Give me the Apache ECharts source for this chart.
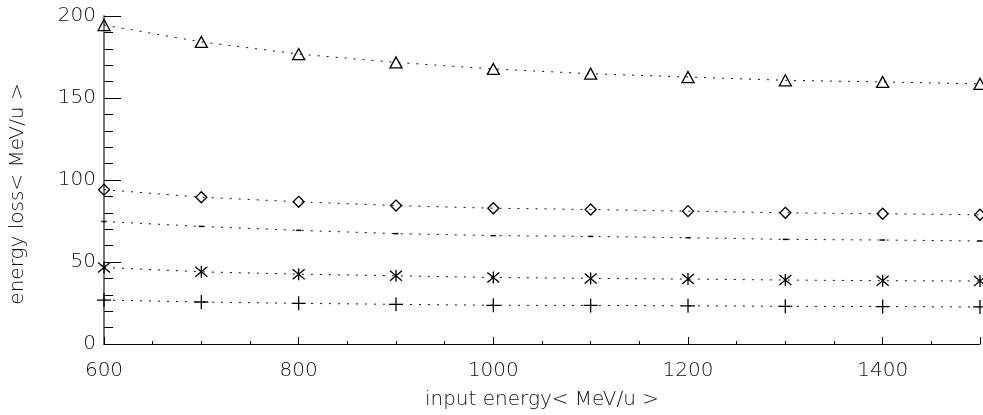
<!DOCTYPE html>
<html>
<head>
<meta charset="utf-8">
<script src="https://cdn.jsdelivr.net/npm/echarts@6/dist/echarts.min.js"></script>
<style>
html,body{margin:0;padding:0;background:#fff;}
#c{width:983px;height:415px;}
</style>
</head>
<body>
<div id="c"></div>
<script>
const energies = [600, 700, 800, 900, 1000, 1100, 1200, 1300, 1400, 1500];
const seriesTriangle = [194.5, 184.2, 176.8, 171.7, 167.7, 164.8, 162.8, 160.8, 159.8, 158.6];
const seriesDiamond  = [94.1, 89.5, 86.7, 84.4, 82.8, 82.0, 81.0, 80.0, 79.4, 78.8];
const seriesDash     = [74.7, 71.7, 69.3, 67.3, 66.1, 65.6, 64.8, 63.8, 63.4, 62.8];
const seriesStar     = [46.7, 44.0, 42.6, 41.6, 40.6, 40.0, 39.6, 39.0, 38.6, 38.4];
const seriesPlus     = [26.8, 25.6, 24.8, 24.2, 23.6, 23.5, 23.3, 23.0, 22.8, 22.6];
const xTitle = 'input energy< MeV/u >';
const yTitle = 'energy loss< MeV/u >';

const FONT = 'DejaVu Sans';
const pairs = arr => energies.map((x, i) => [x, arr[i]]);

function mk(data, symbol, size, itemStyle) {
  return {
    type: 'line',
    data: pairs(data),
    symbol: symbol,
    symbolSize: size,
    showSymbol: true,
    clip: false,
    animation: false,
    lineStyle: { color: '#111', width: 1, type: [2, 7] },
    itemStyle: itemStyle || { color: 'none', borderColor: '#000', borderWidth: 1.3 },
    emphasis: { disabled: true }
  };
}

const chart = echarts.init(document.getElementById('c'), null, { renderer: 'canvas' });
chart.setOption({
  backgroundColor: '#fff',
  animation: false,
  grid: { left: 98, top: 16, width: 886, height: 330, containLabel: false },
  xAxis: {
    type: 'value', min: 600, max: 1500, interval: 200,
    name: xTitle, nameLocation: 'middle', nameGap: 46,
    nameTextStyle: { fontFamily: FONT, fontSize: 20, color: '#111', fontWeight: 300 },
    axisLine: { show: true, lineStyle: { color: '#000', width: 1 } },
    axisTick: { show: true, inside: true, length: 7, lineStyle: { color: '#000' } },
    minorTick: { show: true, splitNumber: 4, length: 3, lineStyle: { color: '#000' } },
    splitLine: { show: false },
    axisLabel: { fontFamily: FONT, fontSize: 20, color: '#111', margin: 17, fontWeight: 300,
      formatter: v => v >= 1500 ? '' : String(v) }
  },
  yAxis: {
    type: 'value', min: 0, max: 200, interval: 50,
    name: yTitle, nameLocation: 'middle', nameGap: 76,
    nameTextStyle: { fontFamily: FONT, fontSize: 20, color: '#111', fontWeight: 300, padding: [0, 28, 0, 0] },
    axisLine: { show: true, lineStyle: { color: '#777', width: 2 } },
    axisTick: { show: true, inside: true, length: 17, lineStyle: { color: '#000' } },
    minorTick: { show: true, splitNumber: 5, length: 9, lineStyle: { color: '#000' } },
    splitLine: { show: false },
    axisLabel: { fontFamily: FONT, fontSize: 20, color: '#111', margin: 8, fontWeight: 300 }
  },
  series: [
    mk(seriesTriangle, 'triangle', [12, 11]),
    mk(seriesDiamond, 'diamond', [11, 11]),
    mk(seriesDash, 'rect', [5, 1.5], { color: '#000', borderWidth: 0 }),
    mk(seriesStar, 'path://M-1,-1L1,1M-1,1L1,-1M0,-1.2L0,1.2', [12, 12]),
    mk(seriesPlus, 'path://M0,-1L0,1M-1,0L1,0', [14, 14])
  ]
});
</script>
</body>
</html>
